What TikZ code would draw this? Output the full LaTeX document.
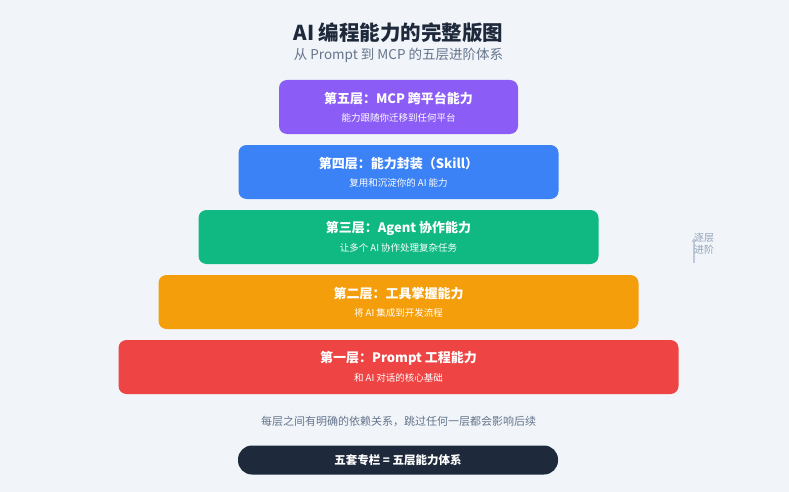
\documentclass[tikz,border=0pt]{standalone}
\usepackage{fontspec}
\setmainfont{Noto Sans CJK SC}
\usetikzlibrary{arrows.meta}
\definecolor{bg}{HTML}{F1F5FA}
\definecolor{ink}{HTML}{1E293B}
\definecolor{gray1}{HTML}{64748B}
\definecolor{gray2}{HTML}{94A3B8}
\definecolor{cpurple}{HTML}{8B5CF6}
\definecolor{cblue}{HTML}{3B82F6}
\definecolor{cgreen}{HTML}{10B981}
\definecolor{corange}{HTML}{F59E0B}
\definecolor{cred}{HTML}{EF4444}
\tikzset{
  layer/.style={rounded corners=8pt, minimum height=54pt, inner sep=0pt, draw=none},
  ltitle/.style={text=white, font=\fontsize{13}{15}\selectfont\bfseries, inner sep=0pt},
  lsub/.style={text=white, font=\fontsize{9.5}{11}\selectfont, inner sep=0pt},
}
\begin{document}
\begin{tikzpicture}[x=1pt,y=-1pt]
\useasboundingbox (0,0) rectangle (789,492);
\fill[bg] (0,0) rectangle (789,492);
\node[font=\fontsize{20.5}{24}\selectfont\bfseries, text=ink, inner sep=0pt] (title) at (398.5,33) {AI 编程能力的完整版图};
\node[font=\fontsize{13.5}{16}\selectfont, text=gray1, inner sep=0pt] (subtitle) at (398.5,55) {从 Prompt 到 MCP 的五层进阶体系};

\node[layer, fill=cpurple, minimum width=239pt] (l5) at (398.5,107) {};
\node[ltitle] (l5t) at (398.5,98.5) {第五层：MCP 跨平台能力};
\node[lsub] (l5s) at (398.5,118) {能力跟随你迁移到任何平台};

\node[layer, fill=cblue, minimum width=320pt] (l4) at (398.5,172) {};
\node[ltitle] (l4t) at (398.5,163.5) {第四层：能力封装（Skill）};
\node[lsub] (l4s) at (398.5,183) {复用和沉淀你的 AI 能力};

\node[layer, fill=cgreen, minimum width=400pt] (l3) at (398.5,237) {};
\node[ltitle] (l3t) at (398.5,228.5) {第三层：Agent 协作能力};
\node[lsub] (l3s) at (398.5,248) {让多个 AI 协作处理复杂任务};

\node[layer, fill=corange, minimum width=480pt] (l2) at (398.5,302) {};
\node[ltitle] (l2t) at (398.5,293.5) {第二层：工具掌握能力};
\node[lsub] (l2s) at (398.5,313) {将 AI 集成到开发流程};

\node[layer, fill=cred, minimum width=560pt] (l1) at (398.5,367) {};
\node[ltitle] (l1t) at (398.5,358.5) {第一层：Prompt 工程能力};
\node[lsub] (l1s) at (398.5,378) {和 AI 对话的核心基础};

\coordinate (arrbot) at (694,263);
\coordinate (arrtop) at (694,238);
\draw[gray2!60, line width=1.5pt, -{Stealth[length=4pt,width=5pt]}] (arrbot) -- (arrtop);
\node[text=gray2, font=\fontsize{10}{12}\selectfont, align=center, inner sep=0pt] (prog) at (704,244) {逐层\\进阶};

\node[text=gray1, font=\fontsize{11}{13}\selectfont, inner sep=0pt] (note) at (398.5,421.5) {每层之间有明确的依赖关系，跳过任何一层都会影响后续};

\node[fill=ink, rounded corners=14pt, minimum width=320pt, minimum height=29pt, inner sep=0pt, text=white, font=\fontsize{11.5}{13}\selectfont\bfseries] (pill) at (398,460) {五套专栏 = 五层能力体系};
\end{tikzpicture}
\end{document}
